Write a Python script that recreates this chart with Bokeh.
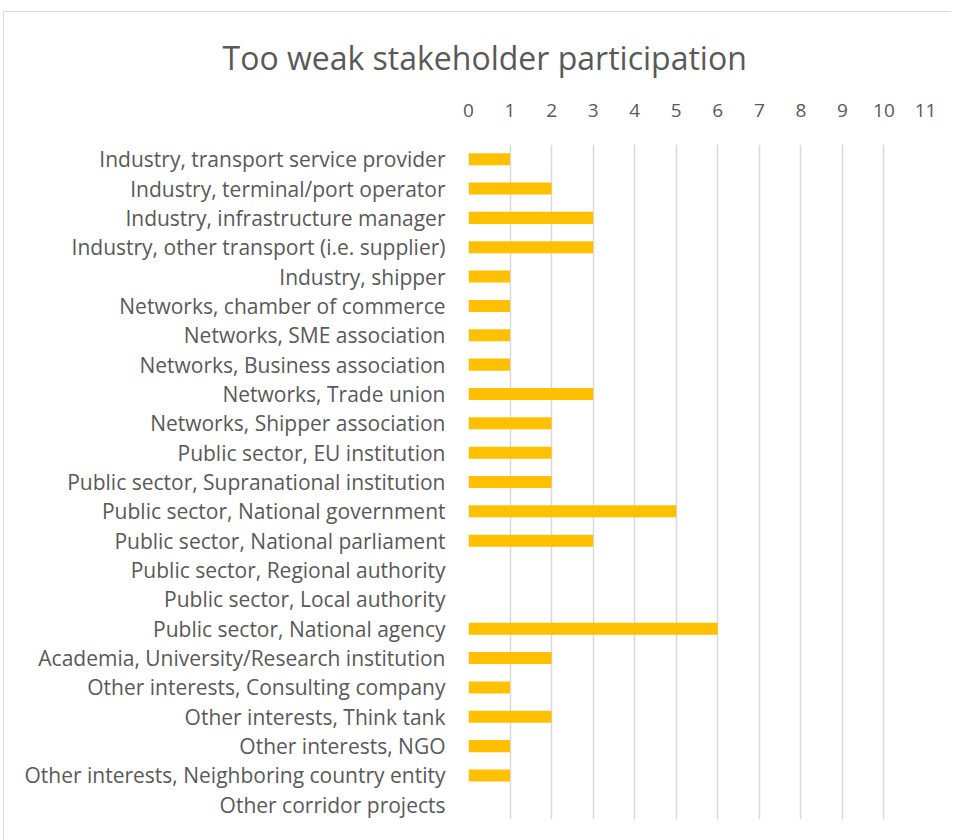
from bokeh.plotting import figure
from bokeh.models import FactorRange, Range1d, Title, FixedTicker, ColumnDataSource
from bokeh.embed import file_html
from bokeh.resources import INLINE

categories = [
    "Industry, transport service provider",
    "Industry, terminal/port operator",
    "Industry, infrastructure manager",
    "Industry, other transport (i.e. supplier)",
    "Industry, shipper",
    "Networks, chamber of commerce",
    "Networks, SME association",
    "Networks, Business association",
    "Networks, Trade union",
    "Networks, Shipper association",
    "Public sector, EU institution",
    "Public sector, Supranational institution",
    "Public sector, National government",
    "Public sector, National parliament",
    "Public sector, Regional authority",
    "Public sector, Local authority",
    "Public sector, National agency",
    "Academia, University/Research institution",
    "Other interests, Consulting company",
    "Other interests, Think tank",
    "Other interests, NGO",
    "Other interests, Neighboring country entity",
    "Other corridor projects",
]
counts = [1, 2, 3, 3, 1, 1, 1, 1, 3, 2, 2, 2, 5, 3, 0, 0, 6, 2, 1, 2, 1, 1, 0]
x_ticks = list(range(0, 12))

FONT = "Open Sans"
TXT = "#595959"

source = ColumnDataSource(data=dict(cat=categories, val=counts))

p = figure(
    width=947, height=828,
    frame_width=457, frame_height=675,
    min_border_left=464, min_border_right=26, min_border_top=131, min_border_bottom=22,
    y_range=FactorRange(factors=list(reversed(categories))),
    x_range=Range1d(0, 11),
    x_axis_location="above",
    output_backend="svg", toolbar_location=None,
)
p.styles = {"margin-left": "3px", "margin-top": "11px",
            "border-top": "1px solid #d9d9d9", "border-left": "1px solid #d9d9d9"}

p.hbar(y="cat", right="val", left=0, height=0.41, source=source,
       fill_color="#FFC000", line_color=None)

t = Title(text="Too weak stakeholder participation", align="left", offset=-246,
          text_font=FONT, text_font_size="32px", text_font_style="normal",
          text_color=TXT, standoff=43)
p.add_layout(t, "above")

xa = p.xaxis[0]
xa.ticker = FixedTicker(ticks=x_ticks)
xa.axis_line_color = None
xa.major_tick_line_color = None
xa.minor_tick_line_color = None
xa.major_label_text_font = FONT
xa.major_label_text_font_size = "19px"
xa.major_label_text_color = TXT
xa.major_label_standoff = 22

ya = p.yaxis[0]
ya.axis_line_color = None
ya.major_tick_line_color = None
ya.minor_tick_line_color = None
ya.major_label_text_font = FONT
ya.major_label_text_font_size = "21px"
ya.major_label_text_color = TXT
ya.major_label_standoff = 17

p.xgrid.grid_line_color = "#d9d9d9"
p.xgrid.grid_line_width = 1.5
p.ygrid.grid_line_color = None
p.outline_line_color = None
p.background_fill_color = "white"
p.border_fill_color = "white"

open("out.html", "w").write(file_html(p, INLINE))
